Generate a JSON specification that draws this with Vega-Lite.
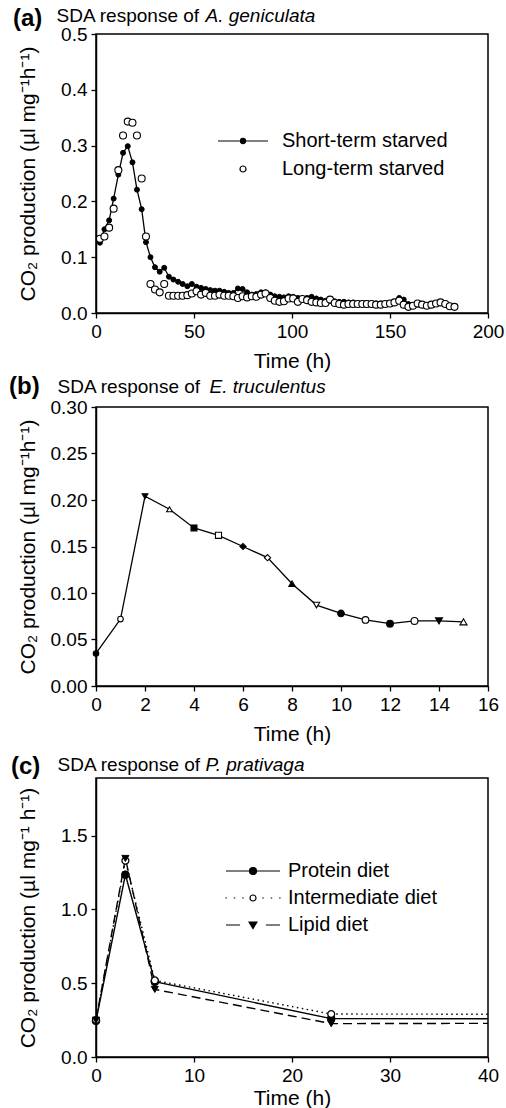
{
 "$schema": "https://vega.github.io/schema/vega-lite/v6.json",
 "background": "white",
 "padding": {"left": 8, "top": 5, "right": 4, "bottom": 2},
 "spacing": 9,
 "resolve": {"scale": {"fill": "independent", "shape": "independent", "size": "independent", "stroke": "independent", "strokeDash": "independent"}, "legend": {"fill": "independent", "shape": "independent", "size": "independent", "stroke": "independent", "strokeDash": "independent"}},
 "config": {
  "font": "Liberation Sans",
  "view": {"stroke": "black", "strokeWidth": 1.5},
  "axis": {"grid": false, "domainColor": "black", "domainWidth": 1.5, "tickColor": "black", "tickWidth": 1.3, "tickSize": 5, "labelColor": "black", "labelFontSize": 19, "labelPadding": 4, "labelFlush": false, "labelOverlap": false, "titleColor": "black", "titleFontSize": 21, "titleFontWeight": "normal"},
  "axisX": {"titlePadding": 9},
  "axisY": {"minExtent": 48, "maxExtent": 48, "titlePadding": 10},
  "legend": {"labelFontSize": 20, "labelColor": "black", "labelLimit": 400, "symbolSize": 36, "symbolStrokeWidth": 1.2, "symbolStrokeColor": "black", "symbolOffset": 0},
  "title": {"color": "black"}
 },
 "datasets": {
  "a": [
   {"t":2.0,"v":0.126,"series":"Short-term starved"},{"t":4.3,"v":0.150,"series":"Short-term starved"},{"t":6.7,"v":0.166,"series":"Short-term starved"},{"t":9.0,"v":0.205,"series":"Short-term starved"},{"t":11.4,"v":0.248,"series":"Short-term starved"},{"t":13.8,"v":0.287,"series":"Short-term starved"},{"t":16.2,"v":0.299,"series":"Short-term starved"},{"t":18.6,"v":0.270,"series":"Short-term starved"},{"t":20.9,"v":0.221,"series":"Short-term starved"},{"t":23.3,"v":0.186,"series":"Short-term starved"},{"t":25.5,"v":0.127,"series":"Short-term starved"},{"t":27.8,"v":0.100,"series":"Short-term starved"},{"t":30.1,"v":0.082,"series":"Short-term starved"},{"t":32.5,"v":0.074,"series":"Short-term starved"},{"t":34.8,"v":0.081,"series":"Short-term starved"},{"t":37.2,"v":0.065,"series":"Short-term starved"},{"t":39.5,"v":0.060,"series":"Short-term starved"},{"t":41.9,"v":0.056,"series":"Short-term starved"},{"t":44.2,"v":0.052,"series":"Short-term starved"},{"t":46.6,"v":0.048,"series":"Short-term starved"},{"t":48.9,"v":0.052,"series":"Short-term starved"},{"t":51.3,"v":0.047,"series":"Short-term starved"},{"t":53.6,"v":0.045,"series":"Short-term starved"},{"t":56.0,"v":0.043,"series":"Short-term starved"},{"t":58.3,"v":0.041,"series":"Short-term starved"},{"t":60.7,"v":0.040,"series":"Short-term starved"},{"t":63.0,"v":0.040,"series":"Short-term starved"},{"t":65.4,"v":0.038,"series":"Short-term starved"},{"t":67.7,"v":0.036,"series":"Short-term starved"},{"t":70.1,"v":0.036,"series":"Short-term starved"},{"t":72.4,"v":0.044,"series":"Short-term starved"},{"t":74.8,"v":0.043,"series":"Short-term starved"},{"t":77.1,"v":0.037,"series":"Short-term starved"},{"t":79.5,"v":0.033,"series":"Short-term starved"},{"t":81.8,"v":0.034,"series":"Short-term starved"},{"t":84.2,"v":0.037,"series":"Short-term starved"},{"t":86.5,"v":0.037,"series":"Short-term starved"},{"t":88.9,"v":0.033,"series":"Short-term starved"},{"t":91.2,"v":0.030,"series":"Short-term starved"},{"t":93.6,"v":0.029,"series":"Short-term starved"},{"t":95.9,"v":0.028,"series":"Short-term starved"},{"t":98.3,"v":0.030,"series":"Short-term starved"},{"t":100.6,"v":0.029,"series":"Short-term starved"},{"t":103.0,"v":0.027,"series":"Short-term starved"},{"t":105.3,"v":0.026,"series":"Short-term starved"},{"t":107.7,"v":0.027,"series":"Short-term starved"},{"t":110.0,"v":0.029,"series":"Short-term starved"},{"t":112.4,"v":0.026,"series":"Short-term starved"},{"t":114.7,"v":0.024,"series":"Short-term starved"},{"t":117.1,"v":0.022,"series":"Short-term starved"},{"t":119.4,"v":0.022,"series":"Short-term starved"},{"t":121.8,"v":0.021,"series":"Short-term starved"},{"t":124.1,"v":0.020,"series":"Short-term starved"},{"t":126.5,"v":0.020,"series":"Short-term starved"},{"t":128.8,"v":0.019,"series":"Short-term starved"},{"t":131.2,"v":0.019,"series":"Short-term starved"},{"t":133.5,"v":0.018,"series":"Short-term starved"},{"t":135.9,"v":0.018,"series":"Short-term starved"},{"t":138.2,"v":0.018,"series":"Short-term starved"},{"t":140.6,"v":0.017,"series":"Short-term starved"},{"t":142.9,"v":0.017,"series":"Short-term starved"},{"t":145.3,"v":0.017,"series":"Short-term starved"},{"t":147.6,"v":0.017,"series":"Short-term starved"},{"t":150.0,"v":0.018,"series":"Short-term starved"},{"t":152.3,"v":0.020,"series":"Short-term starved"},{"t":154.7,"v":0.027,"series":"Short-term starved"},{"t":157.0,"v":0.024,"series":"Short-term starved"},{"t":159.4,"v":0.016,"series":"Short-term starved"},{"t":161.7,"v":0.014,"series":"Short-term starved"},{"t":164.1,"v":0.015,"series":"Short-term starved"},{"t":166.4,"v":0.014,"series":"Short-term starved"},{"t":168.8,"v":0.013,"series":"Short-term starved"},
   {"t":2.0,"v":0.133,"series":"Long-term starved"},{"t":4.3,"v":0.137,"series":"Long-term starved"},{"t":6.7,"v":0.153,"series":"Long-term starved"},{"t":9.0,"v":0.187,"series":"Long-term starved"},{"t":11.4,"v":0.256,"series":"Long-term starved"},{"t":13.8,"v":0.318,"series":"Long-term starved"},{"t":16.2,"v":0.343,"series":"Long-term starved"},{"t":18.6,"v":0.341,"series":"Long-term starved"},{"t":20.9,"v":0.318,"series":"Long-term starved"},{"t":23.3,"v":0.241,"series":"Long-term starved"},{"t":25.5,"v":0.137,"series":"Long-term starved"},{"t":27.8,"v":0.052,"series":"Long-term starved"},{"t":30.1,"v":0.042,"series":"Long-term starved"},{"t":32.5,"v":0.037,"series":"Long-term starved"},{"t":34.8,"v":0.052,"series":"Long-term starved"},{"t":37.2,"v":0.031,"series":"Long-term starved"},{"t":39.5,"v":0.031,"series":"Long-term starved"},{"t":41.9,"v":0.031,"series":"Long-term starved"},{"t":44.2,"v":0.031,"series":"Long-term starved"},{"t":46.6,"v":0.032,"series":"Long-term starved"},{"t":48.9,"v":0.035,"series":"Long-term starved"},{"t":51.3,"v":0.039,"series":"Long-term starved"},{"t":53.6,"v":0.033,"series":"Long-term starved"},{"t":56.0,"v":0.036,"series":"Long-term starved"},{"t":58.3,"v":0.031,"series":"Long-term starved"},{"t":60.7,"v":0.031,"series":"Long-term starved"},{"t":63.0,"v":0.033,"series":"Long-term starved"},{"t":65.4,"v":0.031,"series":"Long-term starved"},{"t":67.7,"v":0.031,"series":"Long-term starved"},{"t":70.1,"v":0.030,"series":"Long-term starved"},{"t":72.4,"v":0.027,"series":"Long-term starved"},{"t":74.8,"v":0.030,"series":"Long-term starved"},{"t":77.1,"v":0.028,"series":"Long-term starved"},{"t":79.5,"v":0.030,"series":"Long-term starved"},{"t":81.8,"v":0.029,"series":"Long-term starved"},{"t":84.2,"v":0.033,"series":"Long-term starved"},{"t":86.5,"v":0.035,"series":"Long-term starved"},{"t":88.9,"v":0.027,"series":"Long-term starved"},{"t":91.2,"v":0.022,"series":"Long-term starved"},{"t":93.6,"v":0.020,"series":"Long-term starved"},{"t":95.9,"v":0.021,"series":"Long-term starved"},{"t":98.3,"v":0.026,"series":"Long-term starved"},{"t":100.6,"v":0.026,"series":"Long-term starved"},{"t":103.0,"v":0.020,"series":"Long-term starved"},{"t":105.3,"v":0.025,"series":"Long-term starved"},{"t":107.7,"v":0.023,"series":"Long-term starved"},{"t":110.0,"v":0.020,"series":"Long-term starved"},{"t":112.4,"v":0.019,"series":"Long-term starved"},{"t":114.7,"v":0.018,"series":"Long-term starved"},{"t":117.1,"v":0.018,"series":"Long-term starved"},{"t":119.4,"v":0.024,"series":"Long-term starved"},{"t":121.8,"v":0.018,"series":"Long-term starved"},{"t":124.1,"v":0.016,"series":"Long-term starved"},{"t":126.5,"v":0.015,"series":"Long-term starved"},{"t":128.8,"v":0.016,"series":"Long-term starved"},{"t":131.2,"v":0.016,"series":"Long-term starved"},{"t":133.5,"v":0.016,"series":"Long-term starved"},{"t":135.9,"v":0.016,"series":"Long-term starved"},{"t":138.2,"v":0.016,"series":"Long-term starved"},{"t":140.6,"v":0.016,"series":"Long-term starved"},{"t":142.9,"v":0.015,"series":"Long-term starved"},{"t":145.3,"v":0.015,"series":"Long-term starved"},{"t":147.6,"v":0.016,"series":"Long-term starved"},{"t":150.0,"v":0.017,"series":"Long-term starved"},{"t":152.3,"v":0.019,"series":"Long-term starved"},{"t":154.7,"v":0.022,"series":"Long-term starved"},{"t":157.0,"v":0.015,"series":"Long-term starved"},{"t":159.4,"v":0.011,"series":"Long-term starved"},{"t":161.7,"v":0.013,"series":"Long-term starved"},{"t":164.1,"v":0.017,"series":"Long-term starved"},{"t":166.4,"v":0.015,"series":"Long-term starved"},{"t":168.8,"v":0.013,"series":"Long-term starved"},{"t":171.1,"v":0.015,"series":"Long-term starved"},{"t":173.5,"v":0.017,"series":"Long-term starved"},{"t":175.8,"v":0.019,"series":"Long-term starved"},{"t":178.2,"v":0.016,"series":"Long-term starved"},{"t":180.5,"v":0.012,"series":"Long-term starved"},{"t":182.9,"v":0.011,"series":"Long-term starved"}
  ],
  "b": [
   {"t":0,"v":0.035},{"t":1,"v":0.072},{"t":2,"v":0.204},{"t":3,"v":0.190},{"t":4,"v":0.170},{"t":5,"v":0.162},{"t":6,"v":0.150},{"t":7,"v":0.138},{"t":8,"v":0.110},{"t":9,"v":0.087},{"t":10,"v":0.078},{"t":11,"v":0.071},{"t":12,"v":0.067},{"t":13,"v":0.070},{"t":14,"v":0.070},{"t":15,"v":0.069}
  ],
  "c": [
   {"t":0,"v":0.245,"diet":"Protein diet"},{"t":3,"v":1.235,"diet":"Protein diet"},{"t":6,"v":0.510,"diet":"Protein diet"},{"t":24,"v":0.260,"diet":"Protein diet"},{"t":48,"v":0.258,"diet":"Protein diet"},
   {"t":0,"v":0.250,"diet":"Intermediate diet"},{"t":3,"v":1.330,"diet":"Intermediate diet"},{"t":6,"v":0.519,"diet":"Intermediate diet"},{"t":24,"v":0.291,"diet":"Intermediate diet"},{"t":48,"v":0.289,"diet":"Intermediate diet"},
   {"t":0,"v":0.250,"diet":"Lipid diet"},{"t":3,"v":1.345,"diet":"Lipid diet"},{"t":6,"v":0.458,"diet":"Lipid diet"},{"t":24,"v":0.226,"diet":"Lipid diet"},{"t":48,"v":0.229,"diet":"Lipid diet"}
  ]
 },
 "vconcat": [
  {
   "spacing": 2,
   "resolve": {"scale": {"fill": "independent", "shape": "independent", "size": "independent", "stroke": "independent", "strokeDash": "independent"}, "legend": {"fill": "independent", "shape": "independent", "size": "independent", "stroke": "independent", "strokeDash": "independent"}},
   "vconcat": [
  {
   "data": {"name": "a"},
   "width": 392, "height": 279,
   "title": {"text": "(a)", "anchor": "start", "frame": "group", "dx": -83, "fontSize": 24, "fontWeight": "bold", "offset": -25},
   "encoding": {
    "x": {"field": "t", "type": "quantitative", "scale": {"domain": [0, 200], "nice": false}, "axis": null},
    "y": {"field": "v", "type": "quantitative", "scale": {"domain": [0, 0.5], "nice": false}, "axis": null}
   },
   "layer": [
    {"transform": [{"filter": "datum.series === 'Short-term starved'"}],
     "mark": {"type": "line", "stroke": "black", "strokeWidth": 1.3},
     "encoding": {
      "x": {"field": "t", "type": "quantitative", "scale": {"domain": [0, 200], "nice": false}, "axis": {"values": [0, 50, 100, 150, 200], "title": "Time (h)"}},
      "y": {"field": "v", "type": "quantitative", "scale": {"domain": [0, 0.5], "nice": false}, "axis": {"values": [0, 0.1, 0.2, 0.3, 0.4, 0.5], "format": ".1f", "title": "CO₂ production (µl mg⁻¹h⁻¹)"}}
     }},
    {"transform": [{"filter": "datum.series === 'Short-term starved'"}],
     "mark": {"type": "point", "shape": "circle", "filled": true, "fill": "black", "stroke": "black", "strokeWidth": 1, "opacity": 1, "size": 25},
     "encoding": {
      "x": {"field": "t", "type": "quantitative", "scale": {"domain": [0, 200], "nice": false}, "axis": {"orient": "top", "title": "SDA response of", "labels": false, "ticks": false, "domain": false, "titleFontSize": 19, "titleAlign": "left", "titleAnchor": "start", "titleX": -40, "titleY": -13, "titleBaseline": "alphabetic"}},
      "y": {"field": "v", "type": "quantitative", "scale": {"domain": [0, 0.5], "nice": false}, "axis": {"orient": "right", "title": "A. geniculata", "labels": false, "ticks": false, "domain": false, "minExtent": 0, "maxExtent": 0, "titleAngle": 0, "titleFontStyle": "italic", "titleFontSize": 19, "titleAlign": "left", "titleAnchor": "start", "titleX": -283, "titleY": -13, "titleBaseline": "alphabetic"}}
     }},
    {"transform": [{"filter": "datum.series === 'Long-term starved'"}],
     "mark": {"type": "point", "shape": "circle", "filled": true, "fill": "white", "stroke": "black", "strokeWidth": 1.1, "opacity": 1, "size": 49}},
    {"transform": [{"filter": "false"}],
     "mark": {"type": "point", "filled": true, "strokeWidth": 1.2, "opacity": 1},
     "encoding": {
      "shape": {"field": "series", "type": "nominal", "scale": {"domain": ["Short-term starved", "Long-term starved"], "range": ["M-8.33,0L8.33,0M0.85,0A0.85,0.85,0,1,1,-0.85,0A0.85,0.85,0,1,1,0.85,0Z", "circle"]},
        "legend": {"title": null, "orient": "none", "legendX": 137, "legendY": 97, "labelOffset": 29, "rowPadding": 8}},
      "fill": {"field": "series", "type": "nominal", "scale": {"domain": ["Short-term starved", "Long-term starved"], "range": ["black", "white"]},
        "legend": {"title": null, "orient": "none", "legendX": 137, "legendY": 97, "labelOffset": 29, "rowPadding": 8}},
      "stroke": {"field": "series", "type": "nominal", "scale": {"domain": ["Short-term starved", "Long-term starved"], "range": ["black", "black"]},
        "legend": {"title": null, "orient": "none", "legendX": 137, "legendY": 97, "labelOffset": 29, "rowPadding": 8}}
     }}
   ],
   "resolve": {"axis": {"x": "independent", "y": "independent"}}
  },
  {
   "data": {"name": "b"},
   "width": 392, "height": 279,
   "title": {"text": "(b)", "anchor": "start", "frame": "group", "dx": -87, "fontSize": 24, "fontWeight": "bold", "offset": -22},
   "layer": [
    {"mark": {"type": "line", "stroke": "black", "strokeWidth": 1.3},
     "encoding": {
      "x": {"field": "t", "type": "quantitative", "scale": {"domain": [0, 16], "nice": false}, "axis": {"values": [0, 2, 4, 6, 8, 10, 12, 14, 16], "title": "Time (h)"}},
      "y": {"field": "v", "type": "quantitative", "scale": {"domain": [0, 0.3], "nice": false}, "axis": {"values": [0, 0.05, 0.1, 0.15, 0.2, 0.25, 0.3], "format": ".2f", "title": "CO₂ production (µl mg⁻¹h⁻¹)"}}
     }},
    {"mark": {"type": "point", "stroke": "black", "strokeWidth": 1.1, "opacity": 1},
     "encoding": {
      "x": {"field": "t", "type": "quantitative", "scale": {"domain": [0, 16], "nice": false}, "axis": {"orient": "top", "title": "SDA response of", "labels": false, "ticks": false, "domain": false, "titleFontSize": 19, "titleAlign": "left", "titleAnchor": "start", "titleX": -39, "titleY": -15, "titleBaseline": "alphabetic"}},
      "y": {"field": "v", "type": "quantitative", "scale": {"domain": [0, 0.3], "nice": false}, "axis": {"orient": "right", "title": "E. truculentus", "labels": false, "ticks": false, "domain": false, "minExtent": 0, "maxExtent": 0, "titleAngle": 0, "titleFontStyle": "italic", "titleFontSize": 19, "titleAlign": "left", "titleAnchor": "start", "titleX": -279, "titleY": -15, "titleBaseline": "alphabetic"}},
      "shape": {"field": "t", "type": "ordinal", "scale": {"domain": [0,1,2,3,4,5,6,7,8,9,10,11,12,13,14,15], "range": ["circle","circle","triangle-down","triangle-up","square","square","diamond","diamond","triangle-up","triangle-down","circle","circle","circle","circle","triangle-down","triangle-up"]}, "legend": null},
      "fill": {"field": "t", "type": "ordinal", "scale": {"domain": [0,1,2,3,4,5,6,7,8,9,10,11,12,13,14,15], "range": ["black","white","black","white","black","white","black","white","black","white","black","white","black","white","black","white"]}, "legend": null},
      "size": {"field": "t", "type": "ordinal", "scale": {"domain": [0,1,2,3,4,5,6,7,8,9,10,11,12,13,14,15], "range": [30,50,30,50,30,50,30,50,30,50,30,50,30,50,30,50]}, "legend": null}
     }}
   ],
   "resolve": {"axis": {"x": "independent", "y": "independent"}}
  }
   ]
  },
  {
   "data": {"name": "c"},
   "width": 392, "height": 279,
   "title": {"text": "(c)", "anchor": "start", "frame": "group", "dx": -85, "fontSize": 24, "fontWeight": "bold", "offset": -24},
   "encoding": {
    "x": {"field": "t", "type": "quantitative", "scale": {"domain": [0, 40], "nice": false}, "axis": null},
    "y": {"field": "v", "type": "quantitative", "scale": {"domain": [0, 1.89], "nice": false}, "axis": null}
   },
   "layer": [
    {"transform": [{"filter": "datum.diet === 'Protein diet'"}],
     "mark": {"type": "line", "stroke": "black", "strokeWidth": 1.4, "clip": true},
     "encoding": {
      "x": {"field": "t", "type": "quantitative", "scale": {"domain": [0, 40], "nice": false}, "axis": {"values": [0, 10, 20, 30, 40], "title": "Time (h)", "titlePadding": 2}},
      "y": {"field": "v", "type": "quantitative", "scale": {"domain": [0, 1.89], "nice": false}, "axis": {"values": [0, 0.5, 1, 1.5], "format": ".1f", "title": "CO₂ production (µl mg⁻¹ h⁻¹)"}}
     }},
    {"transform": [{"filter": "datum.diet === 'Intermediate diet'"}],
     "mark": {"type": "line", "stroke": "black", "strokeWidth": 1.4, "strokeDash": [1.5, 3.5], "clip": true}},
    {"transform": [{"filter": "datum.diet === 'Lipid diet'"}],
     "mark": {"type": "line", "stroke": "black", "strokeWidth": 1.4, "strokeDash": [9, 5], "clip": true}},
    {"transform": [{"filter": "datum.diet === 'Protein diet' && datum.t <= 40"}],
     "mark": {"type": "point", "shape": "circle", "filled": true, "fill": "black", "stroke": "black", "strokeWidth": 1, "opacity": 1, "size": 60},
     "encoding": {
      "x": {"field": "t", "type": "quantitative", "scale": {"domain": [0, 40], "nice": false}, "axis": {"orient": "top", "title": "SDA response of", "labels": false, "ticks": false, "domain": false, "titleFontSize": 19, "titleAlign": "left", "titleAnchor": "start", "titleX": -39, "titleY": -8, "titleBaseline": "alphabetic"}},
      "y": {"field": "v", "type": "quantitative", "scale": {"domain": [0, 1.89], "nice": false}, "axis": {"orient": "right", "title": "P. prativaga", "labels": false, "ticks": false, "domain": false, "minExtent": 0, "maxExtent": 0, "titleAngle": 0, "titleFontStyle": "italic", "titleFontSize": 19, "titleAlign": "left", "titleAnchor": "start", "titleX": -283, "titleY": -8, "titleBaseline": "alphabetic"}}
     }},
    {"transform": [{"filter": "datum.diet === 'Intermediate diet' && datum.t <= 40"}],
     "mark": {"type": "point", "shape": "circle", "filled": true, "fill": "white", "stroke": "black", "strokeWidth": 1.3, "opacity": 1, "size": 48}},
    {"transform": [{"filter": "datum.diet === 'Lipid diet' && datum.t <= 40"}],
     "mark": {"type": "point", "shape": "triangle-down", "filled": true, "fill": "black", "stroke": "black", "strokeWidth": 1, "opacity": 1, "size": 50}},
    {"transform": [{"filter": "false"}],
     "mark": {"type": "point", "filled": true, "strokeWidth": 1.2, "opacity": 1},
     "encoding": {
      "shape": {"field": "diet", "type": "nominal", "scale": {"domain": ["Protein diet", "Intermediate diet", "Lipid diet"], "range": ["M-9,0L9,0M1.17,0A1.17,1.17,0,1,1,-1.17,0A1.17,1.17,0,1,1,1.17,0Z", "M-9.2,0L-8.7,0M-6.4,0L-5.9,0M-3.6,0L-3.1,0M3.1,0L3.6,0M5.9,0L6.4,0M8.7,0L9.2,0M1,0A1,1,0,1,1,-1,0A1,1,0,1,1,1,0Z", "M-9,0L-4.3,0M4.3,0L9,0M-1.3,-1L1.3,-1L0,1.2Z"]},
        "legend": {"title": null, "orient": "none", "legendX": 147, "legendY": 83, "labelOffset": 25, "rowPadding": 7}},
      "fill": {"field": "diet", "type": "nominal", "scale": {"domain": ["Protein diet", "Intermediate diet", "Lipid diet"], "range": ["black", "white", "black"]},
        "legend": {"title": null, "orient": "none", "legendX": 147, "legendY": 83, "labelOffset": 25, "rowPadding": 7}},
      "stroke": {"field": "diet", "type": "nominal", "scale": {"domain": ["Protein diet", "Intermediate diet", "Lipid diet"], "range": ["black", "black", "black"]},
        "legend": {"title": null, "orient": "none", "legendX": 147, "legendY": 83, "labelOffset": 25, "rowPadding": 7}}
     }}
   ],
   "resolve": {"axis": {"x": "independent", "y": "independent"}}
  }
 ]
}
